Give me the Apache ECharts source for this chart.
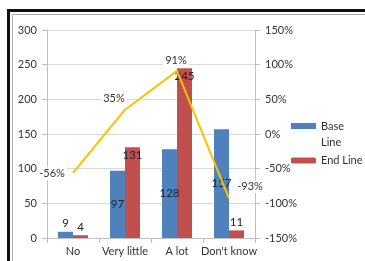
<!DOCTYPE html>
<html><head><meta charset="utf-8">
<script src="https://cdn.jsdelivr.net/npm/echarts@6/dist/echarts.min.js"></script>
<style>html,body{margin:0;padding:0;background:#fff}#c{width:365px;height:261px}</style>
</head><body><div id="c"></div>
<script>
const categories = ['No', 'Very little', 'A lot', "Don't know"];
const baseLine = [9, 97, 128, 157];
const endLine = [4, 131, 245, 11];
const change = [-56, 35, 91, -93];
const leftTicks = [0, 300, 50];
const rightTicks = [-150, 150, 50];

const F = 'Lato, "Open Sans", sans-serif';
const txt = '#333';
const basePos = ['top', 'inside', 'inside', 'inside'];
const endPos = ['top', 'insideTop', 'insideTop', 'top'];
const lineOffsets = [[-21, 1], [-11, -11], [-1, -10], [21, -12]];

const chart = echarts.init(document.getElementById('c'));
chart.setOption({
  animation: false,
  textStyle: { fontFamily: F },
  graphic: [
    { type: 'rect', shape: { x: 8.5, y: 10.5, width: 420, height: 300 }, style: { fill: 'none', stroke: '#111', lineWidth: 3 }, silent: true },
    { type: 'rect', shape: { x: 12.5, y: 14.5, width: 420, height: 300 }, style: { fill: 'none', stroke: '#aaa', lineWidth: 1 }, silent: true }
  ],
  grid: { left: 47, right: 110, top: 30, bottom: 23 },
  legend: [
    { data: [{ name: 'Base Line', icon: 'path://M0,0H25V6H0Z M0,22H0.01V22.01H0Z' }], orient: 'vertical', left: 291, top: 118, padding: 0,
      itemWidth: 25, itemHeight: 22,
      formatter: () => 'Base\nLine',
      textStyle: { fontFamily: F, fontSize: 11, color: txt, lineHeight: 16 } },
    { data: ['End Line'], orient: 'vertical', left: 291, top: 155, padding: 0, itemWidth: 25, itemHeight: 6,
      textStyle: { fontFamily: F, fontSize: 11, color: txt } }
  ],
  xAxis: {
    type: 'category', data: categories,
    axisLine: { lineStyle: { color: '#bfbfbf' } },
    axisTick: { show: true, length: 5, lineStyle: { color: '#bfbfbf' } },
    axisLabel: { color: txt, fontSize: 11, fontFamily: F, margin: 8, interval: 0 }
  },
  yAxis: [
    { type: 'value', min: leftTicks[0], max: leftTicks[1], interval: leftTicks[2],
      axisLine: { show: true, lineStyle: { color: '#bfbfbf' } },
      axisTick: { show: true, length: 5, lineStyle: { color: '#bfbfbf' } },
      splitLine: { lineStyle: { color: '#d9d9d9' } },
      axisLabel: { color: txt, fontSize: 11, fontFamily: F, margin: 10 } },
    { type: 'value', min: rightTicks[0], max: rightTicks[1], interval: rightTicks[2], position: 'right',
      axisLine: { show: true, lineStyle: { color: '#bfbfbf' } },
      axisTick: { show: true, length: 5, lineStyle: { color: '#bfbfbf' } },
      splitLine: { show: false },
      axisLabel: { color: txt, fontSize: 11, fontFamily: F, margin: 10, formatter: '{value}%' } }
  ],
  series: [
    { name: 'Base Line', type: 'bar', barWidth: 15, barGap: '0%', itemStyle: { color: '#4F81BD' },
      data: baseLine.map((v, i) => ({ value: v, label: { position: basePos[i] } })),
      label: { show: true, color: '#222', fontSize: 11.5, fontFamily: F, distance: 2 } },
    { name: 'End Line', type: 'bar', barWidth: 15, itemStyle: { color: '#C0504D' },
      data: endLine.map((v, i) => ({ value: v, label: { position: endPos[i] } })),
      label: { show: true, color: '#222', fontSize: 11.5, fontFamily: F, distance: 2 } },
    { name: 'Change', type: 'line', yAxisIndex: 1, symbol: 'circle', symbolSize: 0.1, showSymbol: true,
      lineStyle: { color: '#FFC000', width: 2 }, itemStyle: { color: '#FFC000' },
      data: change.map((v, i) => ({ value: v, label: { offset: lineOffsets[i] } })),
      label: { show: true, position: 'inside', formatter: '{c}%', color: txt, fontSize: 11, fontFamily: F,
        backgroundColor: '#fff', padding: [1, 2] },
      z: 5 }
  ]
});
</script></body></html>
